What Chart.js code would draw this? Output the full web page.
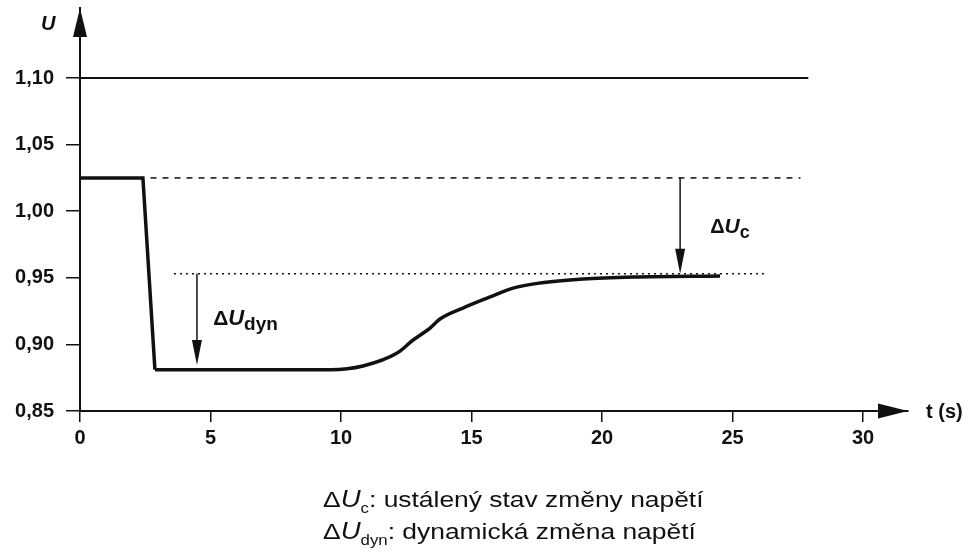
<!doctype html>
<html lang="cs">
<head>
<meta charset="utf-8">
<title>U(t)</title>
<script src="https://cdn.jsdelivr.net/npm/chart.js"></script>
<style>
  html, body { margin: 0; padding: 0; background: #fff; }
  #wrap { position: relative; width: 968px; height: 553px; }
  canvas { display: block; }
</style>
</head>
<body>
<div id="wrap"><canvas id="chart"></canvas></div>
<script>
// data (t in s, U in p.u.)
const xTicks = [0, 5, 10, 15, 20, 25, 30];
const yTicks = [0.85, 0.90, 0.95, 1.00, 1.05, 1.10];

const dropT = [0, 2.41, 2.87];
const dropU = [1.025, 1.025, 0.881];
const recoveryT = [2.87, 9.6, 10.84, 12.15, 12.76, 13.41, 13.79, 14.67, 15.71, 16.59, 17.62, 19.27, 21.19, 24.52];
const recoveryU = [0.881, 0.881, 0.8838, 0.8935, 0.9033, 0.9123, 0.9191, 0.9273, 0.9356, 0.9423, 0.9461, 0.9491, 0.9506, 0.9514];

const limitT = [0, 27.9];
const limitU = [1.10, 1.10];
const steadyT = [2.7, 27.6];
const steadyU = [1.025, 1.025];
const dynT = [3.6, 26.3];
const dynU = [0.953, 0.953];

// arrows: [t, from U, to U]
const arrowDyn = [4.48, 0.953, 0.8845];
const arrowC = [22.99, 1.025, 0.953];
// label anchors [t, U]
const labelDyn = [5.1, 0.9146];
const labelC = [24.14, 0.9836];

const caption = [
  { sub: 'c', text: ': ustálený stav změny napětí' },
  { sub: 'dyn', text: ': dynamická změna napětí' },
];

const ink = '#111';
const FONT = '"Liberation Sans", Arial, sans-serif';

const toPoints = (xs, ys) => xs.map((x, i) => ({ x, y: ys[i] }));

function line(data, extra) {
  return Object.assign({
    data,
    borderColor: ink,
    borderWidth: 1.5,
    pointRadius: 0,
    tension: 0,
    fill: false,
  }, extra);
}

function arrowHead(ctx, x, y, dir, len, width) {
  ctx.beginPath();
  if (dir === 'down') {
    ctx.moveTo(x, y);
    ctx.lineTo(x - width / 2, y - len);
    ctx.lineTo(x + width / 2, y - len);
  } else if (dir === 'up') {
    ctx.moveTo(x, y);
    ctx.lineTo(x - width / 2, y + len);
    ctx.lineTo(x + width / 2, y + len);
  } else {
    ctx.moveTo(x, y);
    ctx.lineTo(x - len, y - width / 2);
    ctx.lineTo(x - len, y + width / 2);
  }
  ctx.closePath();
  ctx.fill();
}

// Δ + italic U + subscript, returns end x
function deltaU(ctx, x, y, size, subSize, sub, weight) {
  ctx.font = `${weight} ${size}px ${FONT}`;
  ctx.fillText('Δ', x, y);
  x += ctx.measureText('Δ').width;
  ctx.font = `italic ${weight} ${size + 1}px ${FONT}`;
  ctx.fillText('U', x, y);
  x += ctx.measureText('U').width;
  ctx.font = `${weight} ${subSize}px ${FONT}`;
  ctx.fillText(sub, x, y + size * 0.25);
  return x + ctx.measureText(sub).width;
}

const decorations = {
  id: 'decorations',
  afterDraw(chart) {
    const { ctx, chartArea, scales } = chart;
    const sx = scales.x, sy = scales.y;
    ctx.save();
    ctx.fillStyle = ink;
    ctx.strokeStyle = ink;

    // axis arrow heads
    arrowHead(ctx, chartArea.left, chartArea.top, 'up', 29, 14);
    arrowHead(ctx, chartArea.right, chartArea.bottom, 'right', 30, 15);

    // axis titles
    ctx.textBaseline = 'alphabetic';
    ctx.textAlign = 'left';
    ctx.font = `italic bold 20px ${FONT}`;
    ctx.fillText('U', 41, 30);
    ctx.font = `bold 20px ${FONT}`;
    ctx.textBaseline = 'middle';
    ctx.fillText('t (s)', chartArea.right + 18, chartArea.bottom + 1);

    // delta arrows
    ctx.lineWidth = 1.5;
    for (const [t, from, to] of [arrowDyn, arrowC]) {
      const x = sx.getPixelForValue(t);
      const y0 = sy.getPixelForValue(from);
      const y1 = sy.getPixelForValue(to);
      ctx.beginPath();
      ctx.moveTo(x, y0);
      ctx.lineTo(x, y1 - 20);
      ctx.stroke();
      arrowHead(ctx, x, y1, 'down', 25, 10);
    }

    // delta labels
    ctx.textBaseline = 'alphabetic';
    deltaU(ctx, sx.getPixelForValue(labelDyn[0]), sy.getPixelForValue(labelDyn[1]), 21, 19, 'dyn', 'bold');
    deltaU(ctx, sx.getPixelForValue(labelC[0]), sy.getPixelForValue(labelC[1]), 20, 18, 'c', 'bold');

    // caption (the scanned face is wider than Arial)
    const capX = 323;
    const capY = [507, 539];
    caption.forEach((row, i) => {
      ctx.save();
      ctx.translate(capX, capY[i]);
      ctx.scale(1.2, 1);
      const x = deltaU(ctx, 0, 0, 22, 14, row.sub, 'normal');
      ctx.font = `22px ${FONT}`;
      ctx.fillText(row.text, x, 0);
      ctx.restore();
    });
    ctx.restore();
  },
};

const axisFont = { family: FONT, size: 20, weight: 'bold' };

new Chart(document.getElementById('chart'), {
  type: 'line',
  plugins: [decorations],
  data: {
    datasets: [
      line(toPoints(limitT, limitU), { borderWidth: 2 }),
      line(toPoints(steadyT, steadyU), { borderDash: [6, 6] }),
      line(toPoints(dynT, dynU), { borderDash: [2, 4] }),
      line(toPoints(dropT, dropU), { borderWidth: 3.5 }),
      line(toPoints(recoveryT, recoveryU), { borderWidth: 3.5, cubicInterpolationMode: 'monotone' }),
    ],
  },
  options: {
    responsive: true,
    maintainAspectRatio: false,
    animation: false,
    events: [],
    layout: { padding: { left: 0, right: 60, top: 8, bottom: 97 } },
    plugins: { legend: { display: false }, tooltip: { enabled: false } },
    scales: {
      x: {
        type: 'linear',
        min: 0,
        max: 31.72,
        afterBuildTicks: (scale) => { scale.ticks = xTicks.map((value) => ({ value })); },
        afterFit: (scale) => { scale.height = 45; },
        grid: { drawOnChartArea: false, drawTicks: true, tickLength: 11, color: ink, lineWidth: 1.5 },
        border: { display: true, color: ink, width: 2 },
        ticks: { font: axisFont, color: ink, padding: 4, maxRotation: 0, callback: (v) => String(v) },
      },
      y: {
        type: 'linear',
        min: 0.85,
        max: 1.1526,
        afterBuildTicks: (scale) => { scale.ticks = yTicks.map((value) => ({ value })); },
        afterFit: (scale) => {
          scale.width = 80;
          scale.paddingTop = 0;
          scale.paddingBottom = 0;
        },
        grid: { drawOnChartArea: false, drawTicks: true, tickLength: 14, color: ink, lineWidth: 1.5 },
        border: { display: true, color: ink, width: 2 },
        ticks: { font: axisFont, color: ink, padding: 12, callback: (v) => v.toFixed(2).replace('.', ',') },
      },
    },
  },
});
</script>
</body>
</html>
